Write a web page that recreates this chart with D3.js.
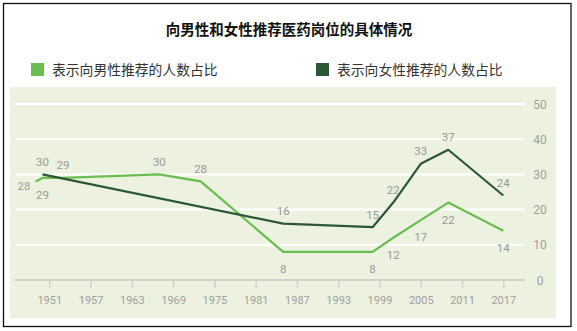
<!DOCTYPE html>
<html>
<head>
<meta charset="utf-8">
<script src="https://cdn.jsdelivr.net/npm/d3@7"></script>
<style>
  html, body { margin: 0; padding: 0; background: #fff; }
  svg { display: block; }
</style>
</head>
<body>
<svg id="chart" width="577" height="331"></svg>
<script>
// Survey share recommending a medical career, by year
const titleText = "向男性和女性推荐医药岗位的具体情况";
const seriesNames = ["表示向男性推荐的人数占比", "表示向女性推荐的人数占比"];

const menYears   = [1949, 1950, 1953, 1967, 1973, 1985, 1998, 2001, 2005, 2009, 2017];
const menValues  = [28, 29, 29, 30, 28, 8, 8, 12, 17, 22, 14];
const menLabelPos = ["left", "below", "above", "above", "above", "below", "below", "below", "below", "below", "below"];

const womenYears  = [1950, 1985, 1998, 2001, 2005, 2009, 2017];
const womenValues = [30, 16, 15, 22, 33, 37, 24];
const womenLabelPos = ["above", "above", "above", "above", "above", "above", "above"];

const xTicks = [1951, 1957, 1963, 1969, 1975, 1981, 1987, 1993, 1999, 2005, 2011, 2017];
const yTicks = [0, 10, 20, 30, 40, 50];

const colors = ["#69be4f", "#2c5736"];

const svg = d3.select("#chart");
const W = 577, H = 331;

// outer frame
svg.append("rect")
  .attr("x", 3.5).attr("y", 3.5).attr("width", 567.5).attr("height", 323)
  .attr("fill", "#fff").attr("stroke", "#111").attr("stroke-width", 1.3);

// title
svg.append("text")
  .attr("x", 289).attr("y", 35)
  .attr("text-anchor", "middle")
  .attr("font-family", "'Noto Sans CJK SC', sans-serif")
  .attr("font-size", 14.5).attr("font-weight", 700)
  .attr("fill", "#111")
  .text(titleText);

// legend
const legendX = [31, 316];
seriesNames.forEach((name, i) => {
  const g = svg.append("g").attr("transform", `translate(${legendX[i]},63)`);
  g.append("rect").attr("width", 13).attr("height", 13).attr("fill", colors[i]);
  g.append("text")
    .attr("x", 21).attr("y", 12)
    .attr("font-family", "'Noto Sans CJK SC', sans-serif")
    .attr("font-size", 13.8).attr("fill", "#333")
    .text(name);
});

// plot area background
svg.append("rect")
  .attr("x", 10).attr("y", 87).attr("width", 546).attr("height", 231)
  .attr("fill", "#ecf2df");

const x = d3.scaleLinear().domain([1951, 2017]).range([49.3, 503.3]);
const y = d3.scaleLinear().domain([0, 50]).range([280, 104]);

const gridLeft = 15, gridRight = 525;

// horizontal grid lines
svg.append("g").selectAll("line")
  .data(yTicks.filter(d => d > 0))
  .join("line")
  .attr("x1", gridLeft).attr("x2", gridRight)
  .attr("y1", d => y(d)).attr("y2", d => y(d))
  .attr("stroke", "#fff").attr("stroke-width", 2);

// right-side value axis labels
svg.append("g").selectAll("text")
  .data(yTicks)
  .join("text")
  .attr("x", 540).attr("y", d => y(d) + 4.5)
  .attr("text-anchor", "middle")
  .attr("font-family", "Roboto, sans-serif")
  .attr("font-size", 12).attr("fill", "#a0a0a0")
  .text(d => d);

// bottom year axis
const xAxis = svg.append("g")
  .attr("transform", `translate(0,${y(0)})`)
  .call(d3.axisBottom(x).tickValues(xTicks).tickFormat(d3.format("d")).tickSize(8).tickPadding(8));
xAxis.select(".domain").remove();
xAxis.insert("line", ":first-child")
  .attr("x1", gridLeft).attr("x2", gridRight)
  .attr("stroke", "#cfd3c8").attr("stroke-width", 2);
xAxis.selectAll(".tick line").attr("stroke", "#cfd3c8").attr("stroke-width", 1.5);
xAxis.selectAll(".tick text")
  .attr("font-family", "Roboto, sans-serif")
  .attr("font-size", 11).attr("fill", "#a0a0a0");

// series lines
const line = d3.line().x(d => x(d[0])).y(d => y(d[1]));
const series = [
  { years: menYears, values: menValues, pos: menLabelPos, color: colors[0] },
  { years: womenYears, values: womenValues, pos: womenLabelPos, color: colors[1] }
];

series.forEach(s => {
  const pts = s.years.map((yr, i) => [yr, s.values[i]]);
  svg.append("path")
    .datum(pts)
    .attr("d", line)
    .attr("fill", "none")
    .attr("stroke", s.color)
    .attr("stroke-width", 2.2)
    .attr("stroke-linejoin", "round");
});

// value labels
const placement = {
  above: { dx: 0, dy: -8.5, anchor: "middle" },
  below: { dx: 0, dy: 21, anchor: "middle" },
  left:  { dx: -5, dy: 8.5, anchor: "end" }
};
series.forEach(s => {
  svg.append("g").selectAll("text")
    .data(s.years.map((yr, i) => ({ yr, v: s.values[i], p: placement[s.pos[i]] })))
    .join("text")
    .attr("x", d => x(d.yr) + d.p.dx)
    .attr("y", d => y(d.v) + d.p.dy)
    .attr("text-anchor", d => d.p.anchor)
    .attr("font-family", "Roboto, sans-serif")
    .attr("font-size", 11.5).attr("fill", "#9a9a9a")
    .text(d => d.v);
});
</script>
</body>
</html>
